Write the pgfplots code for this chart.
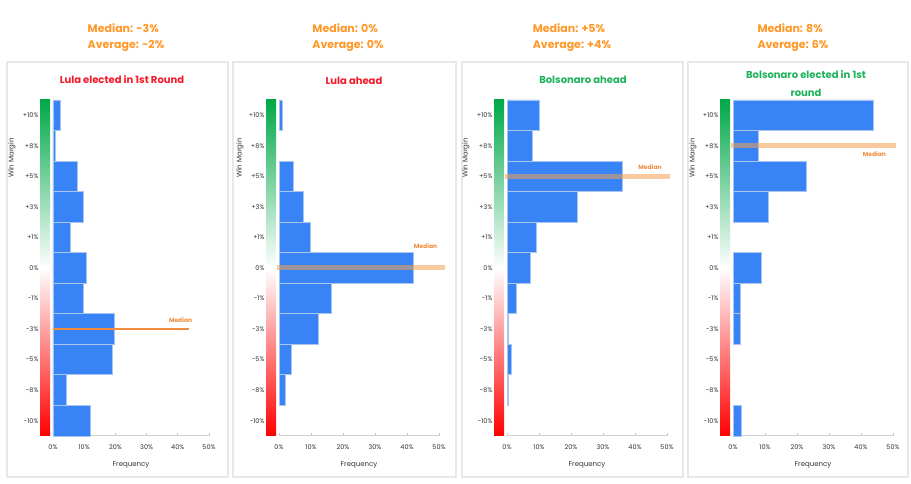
\documentclass[border=0pt]{standalone}
\usepackage{fontspec}
\setmainfont{Poppins}
\usepackage{pgfplots}
\pgfplotsset{compat=1.18}
\definecolor{barblue}{RGB}{56,132,246}
\definecolor{baredge}{RGB}{170,196,240}
\definecolor{hdrorange}{RGB}{255,152,40}
\definecolor{medorange}{RGB}{240,140,60}
\definecolor{medband}{RGB}{245,160,80}
\definecolor{ttlred}{RGB}{245,25,40}
\definecolor{ttlgreen}{RGB}{30,178,90}
\definecolor{gradgreen}{RGB}{0,168,72}
\definecolor{framegray}{RGB}{232,232,232}
\tikzset{medlabel/.style={text=medorange, font=\bfseries\fontsize{6}{7}\selectfont}}
\pgfplotsset{
  panel/.style={
    scale only axis, height=336pt, anchor=south west,
    xmin=0, xmax=50, ymin=-0.5, ymax=10.5,
    axis x line*=bottom, axis y line*=left,
    y axis line style={draw=none},
    x axis line style={-, draw=gray!35, line width=1pt},
    xtick={0,10,20,30,40,50},
    xticklabels={0\%,10\%,20\%,30\%,40\%,50\%},
    ytick={0,...,10},
    yticklabels={-10\%,-8\%,-5\%,-3\%,-1\%,0\%,+1\%,+3\%,+5\%,+8\%,+10\%},
    ytick style={draw=none},
    xtick style={draw=gray!45, line width=0.6pt},
    major tick length=3pt,
    tick label style={font=\fontsize{6.5}{7}\selectfont, text=black!80},
    yticklabel style={xshift=-11pt},
    xticklabel style={yshift=-5pt},
    xlabel={Frequency},
    xlabel style={at={(rel axis cs:0.5,0)}, anchor=center, yshift=-29pt, font=\fontsize{7}{8}\selectfont, text=black!80},
    clip=false,
  },
  bars/.style={xbar, bar width=1, fill=barblue, draw=baredge, line width=0.9pt},
  medline/.style={medorange, line width=1.5pt},
  medthick/.style={medband, opacity=0.55, line width=5pt},
}
\tikzset{grad/.style={top color=gradgreen, bottom color=red, middle color=white}}
\begin{document}
\begin{tikzpicture}[x=1pt,y=1pt]
\fill[white] (0,0) rectangle (911,484);
% panel frames
\draw[framegray, line width=2.5pt, fill=white] (7,7) rectangle (228,422);
\draw[framegray, line width=2.5pt, fill=white] (233,7) rectangle (456,422);
\draw[framegray, line width=2.5pt, fill=white] (462,7) rectangle (683,422);
\draw[framegray, line width=2.5pt, fill=white] (688,7) rectangle (908,422);
% headers
\begin{scope}[every node/.style={align=left, text=hdrorange, font=\bfseries\fontsize{11}{16}\selectfont}]
\node at (126,446) {Median: -3\%\\Average: -2\%};
\node at (348,446) {Median: 0\%\\Average: 0\%};
\node at (572,446) {Median: +5\%\\Average: +4\%};
\node at (793,446) {Median: 8\%\\Average: 6\%};
\end{scope}
% titles
\begin{scope}[every node/.style={align=center, font=\bfseries\fontsize{10}{18}\selectfont}]
\node[text=ttlred] at (122,404) {Lula elected in 1st Round};
\node[text=ttlred] at (354,403) {Lula ahead};
\node[text=ttlgreen] at (583,404) {Bolsonaro ahead};
\node[text=ttlgreen] at (806,400) {Bolsonaro elected in 1st\\round};
\end{scope}
% gradients
\shade[grad] (40,48) rectangle (50,384);
\shade[grad] (266,48) rectangle (276,384);
\shade[grad] (494,48) rectangle (504,384);
\shade[grad] (720,48) rectangle (730,384);
% y labels
\begin{scope}[every node/.style={rotate=90, font=\fontsize{7}{8}\selectfont, text=black!80}]
\node at (12,326) {Win Margin};
\node at (240,326) {Win Margin};
\node at (466,326) {Win Margin};
\node at (693,326) {Win Margin};
\end{scope}
% Panel 1
\begin{axis}[panel, at={(53pt,48pt)}, width=156pt]
\addplot[bars] coordinates {(12,0) (4.2,1) (19,2) (19.7,3) (9.7,4) (10.6,5) (5.5,6) (9.7,7) (7.7,8) (0.8,9) (2.3,10)};
\addplot[medline] coordinates {(0,3) (43.5,3)};
\node[medlabel] at (axis cs:40.9,3) [yshift=9pt] {Median};
\end{axis}
% Panel 2
\begin{axis}[panel, at={(279pt,48pt)}, width=160pt]
\addplot[bars] coordinates {(2,1) (4,2) (12.2,3) (16.5,4) (42,5) (9.7,6) (7.5,7) (4.4,8) (1,10)};
\addplot[medthick] coordinates {(-0.7,5) (52,5)};
\node[medlabel] at (axis cs:45.8,5) [yshift=22pt] {Median};
\end{axis}
% Panel 3
\begin{axis}[panel, at={(507pt,48pt)}, width=160pt]
\addplot[bars] coordinates {(0.3,1) (1.3,2) (0.3,3) (3,4) (7.2,5) (9.3,6) (22,7) (36,8) (8.1,9) (10,10)};
\addplot[medthick] coordinates {(-0.7,8) (51,8)};
\node[medlabel] at (axis cs:44.7,8) [yshift=9pt] {Median};
\end{axis}
% Panel 4
\begin{axis}[panel, at={(733pt,48pt)}, width=160pt]
\addplot[bars] coordinates {(2.5,0) (2.2,3) (2.2,4) (9,5) (11,7) (23,8) (7.8,9) (44,10)};
\addplot[medthick] coordinates {(-0.7,9) (51,9)};
\node[medlabel] at (axis cs:44.2,9) [yshift=-8pt] {Median};
\end{axis}
\end{tikzpicture}
\end{document}
